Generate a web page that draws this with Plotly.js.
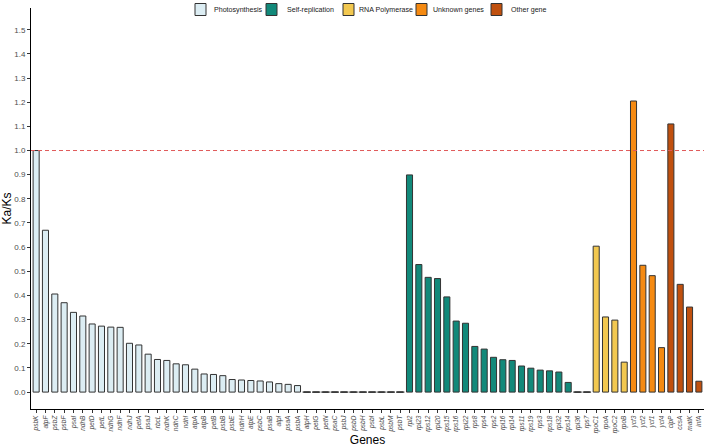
<!DOCTYPE html>
<html>
<head>
<meta charset="utf-8">
<script src="https://cdn.plot.ly/plotly-3.0.1.min.js"></script>
<style>
  html, body { margin: 0; padding: 0; background: #fff; }
  #chart { width: 708px; height: 447px; }
</style>
</head>
<body>
<div id="chart"></div>
<script>
// Ka/Ks per gene, grouped by function.
const photoGenes = ["psbK","atpF","psbZ","psbF","psaI","ndhB","petD","petL","ndhG","ndhF",
  "ndhJ","petA","psaJ","rbcL","ndhK","ndhC","ndhI","atpA","atpB","petB",
  "psbB","psbE","ndhH","atpE","psbC","psaB","atpI","psaA","psbA","atpH",
  "petG","petN","psaC","psbJ","psbD","psbH","psbI","psbL","psbM","psbT"];
const photoVals = [1.0,0.67,0.406,0.37,0.33,0.315,0.282,0.273,0.269,0.268,
  0.202,0.195,0.157,0.135,0.131,0.117,0.113,0.095,0.075,0.073,
  0.068,0.052,0.05,0.048,0.046,0.042,0.035,0.032,0.027,0,
  0,0,0,0,0,0,0,0,0,0];

const selfGenes = ["rpl2","rpl23","rps12","rpl20","rps15","rps16","rpl22","rps8","rps4","rps2",
  "rpl16","rpl14","rps11","rps19","rps3","rps18","rpl32","rps14","rpl36","rps7"];
const selfVals = [0.899,0.528,0.475,0.47,0.394,0.294,0.285,0.189,0.178,0.144,
  0.134,0.131,0.108,0.099,0.091,0.088,0.083,0.04,0,0];

const rnaGenes = ["rpoC1","rpoA","rpoC2","rpoB"];
const rnaVals  = [0.604,0.311,0.298,0.124];

const unknownGenes = ["ycf3","ycf2","ycf1","ycf4"];
const unknownVals  = [1.205,0.525,0.482,0.184];

const otherGenes = ["clpP","ccsA","matK","infA"];
const otherVals  = [1.11,0.446,0.352,0.045];

const yTicks = [0,0.1,0.2,0.3,0.4,0.5,0.6,0.7,0.8,0.9,1.0,1.1,1.2,1.3,1.4,1.5];

const groups = [
  { name: "Photosynthesis",   genes: photoGenes,   vals: photoVals,   color: "#dcedf3" },
  { name: "Self-replication", genes: selfGenes,    vals: selfVals,    color: "#12897a" },
  { name: "RNA Polymerase",   genes: rnaGenes,     vals: rnaVals,     color: "#f2c850" },
  { name: "Unknown genes",    genes: unknownGenes, vals: unknownVals, color: "#f58a12" },
  { name: "Other gene",       genes: otherGenes,   vals: otherVals,   color: "#c0500e" },
];

const allGenes = groups.flatMap(g => g.genes);

const W = 708, H = 447;
const M = { l: 31, r: 4, t: 8, b: 38 };
const plotW = W - M.l - M.r, plotH = H - M.t - M.b;
const px2x = px => (px - M.l) / plotW;
const px2y = py => (H - M.b - py) / plotH;

const data = groups.map(g => ({
  type: "bar",
  name: g.name,
  x: g.genes,
  y: g.vals,
  width: 0.65,
  marker: { color: g.color, line: { color: "#333333", width: 1 } },
  hovertemplate: "%{x}: %{y}<extra></extra>",
}));

// zero-valued bars still show their outline as a short flat stroke
const zeroX = [];
for (const g of groups) g.genes.forEach((gene, i) => { if (g.vals[i] === 0) zeroX.push(gene); });
data.push({
  type: "scatter",
  mode: "markers",
  x: zeroX,
  y: zeroX.map(() => 0),
  hoverinfo: "skip",
  marker: { symbol: "line-ew", size: 6, line: { color: "#333333", width: 1.3 } },
});

// ggplot-style compact legend along the top (pixel positions of key and label)
const keyLeft  = [195, 266, 343, 416, 491];
const textLeft = [212, 285, 357, 431, 509];
const shapes = [{
  type: "line", xref: "paper", x0: 0, x1: 1, yref: "y", y0: 1, y1: 1,
  line: { color: "#e05a5a", width: 1, dash: "4px,3px" },
}];
const annotations = [];
groups.forEach((g, i) => {
  shapes.push({
    type: "rect", xref: "paper", yref: "paper",
    x0: px2x(keyLeft[i]), x1: px2x(keyLeft[i] + 11), y0: px2y(15.5), y1: px2y(3.5),
    fillcolor: g.color, line: { color: "#333333", width: 1 },
  });
  annotations.push({
    xref: "paper", yref: "paper", x: px2x(textLeft[i]), y: px2y(9.5),
    xanchor: "left", yanchor: "middle", showarrow: false,
    text: g.name, font: { size: 7.1, color: "#1a1a1a" },
  });
});

const layout = {
  width: W,
  height: H,
  paper_bgcolor: "#ffffff",
  plot_bgcolor: "#ffffff",
  font: { family: "Liberation Sans, Arial, sans-serif", color: "#000" },
  margin: Object.assign({ autoexpand: false }, M),
  barmode: "overlay",
  showlegend: false,
  xaxis: {
    type: "category",
    categoryorder: "array",
    categoryarray: allGenes,
    range: [-0.55, allGenes.length - 0.45],
    tickangle: -90,
    tickfont: { size: 6.5, color: "#4d4d4d", style: "italic" },
    ticks: "outside", ticklen: 3, tickcolor: "#333",
    showline: true, linecolor: "#000", linewidth: 1,
    showgrid: false, zeroline: false,
    automargin: false,
    title: { text: "Genes", font: { size: 12, color: "#000" }, standoff: 6 },
  },
  yaxis: {
    range: [-0.07, 1.59],
    tickvals: yTicks,
    tickformat: ".1f",
    tickfont: { size: 8, color: "#4d4d4d" },
    ticks: "outside", ticklen: 3, tickcolor: "#333",
    showline: true, linecolor: "#000", linewidth: 1,
    showgrid: false, zeroline: false,
    automargin: false,
    title: { text: "Ka/Ks", font: { size: 12, color: "#000" }, standoff: 4 },
  },
  shapes,
  annotations,
};

Plotly.newPlot("chart", data, layout, { displayModeBar: false, staticPlot: true });
</script>
</body>
</html>
